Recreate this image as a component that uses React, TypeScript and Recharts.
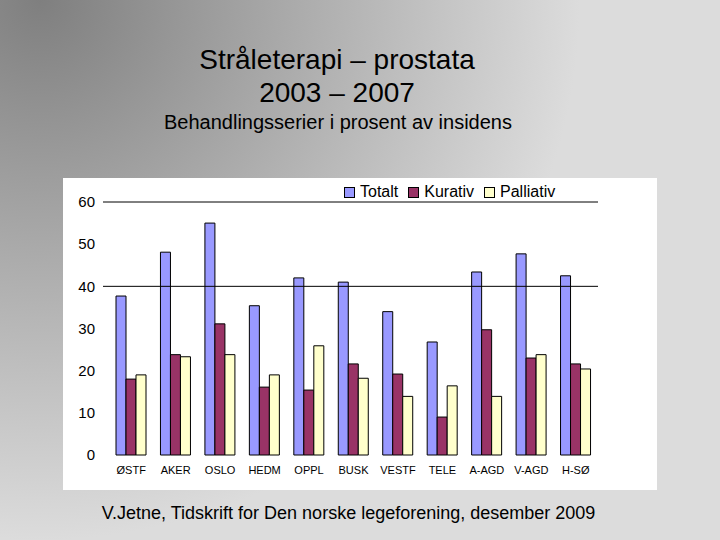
import React from 'react';
import { BarChart, Bar, XAxis, YAxis, ReferenceLine, Legend } from 'recharts';

const categories = ['ØSTF', 'AKER', 'OSLO', 'HEDM', 'OPPL', 'BUSK', 'VESTF', 'TELE', 'A-AGD', 'V-AGD', 'H-SØ'];
const totalt = [37.7, 48.1, 55.0, 35.4, 42.0, 41.0, 34.0, 26.8, 43.4, 47.7, 42.5];
const kurativ = [18.0, 23.8, 31.1, 16.1, 15.4, 21.6, 19.2, 9.0, 29.7, 23.0, 21.6];
const palliativ = [19.0, 23.3, 23.8, 19.0, 25.9, 18.2, 13.9, 16.4, 13.9, 23.8, 20.4];
const yTicks = [0, 10, 20, 30, 40, 50, 60];
const gridValues = [40, 60];

const seriesNames = ['Totalt', 'Kurativ', 'Palliativ'];
const seriesColors = ['#9999ff', '#993366', '#ffffcc'];

const data = categories.map((name, i) => ({
  name,
  Totalt: totalt[i],
  Kurativ: kurativ[i],
  Palliativ: palliativ[i],
}));

const FONT = '"Liberation Sans", Arial, Helvetica, sans-serif';

const renderLegend = () => (
  <div style={{ display: 'flex', alignItems: 'center', fontFamily: FONT, fontSize: 16, color: '#000', lineHeight: '18px', whiteSpace: 'nowrap' }}>
    {seriesNames.map((n, i) => (
      <div key={n} style={{ display: 'flex', alignItems: 'center', marginRight: 10 }}>
        <span style={{ display: 'inline-block', width: 9, height: 9, background: seriesColors[i], border: '1px solid #000', marginRight: 5 }} />
        <span>{n}</span>
      </div>
    ))}
  </div>
);

export default function App() {
  return (
    <div
      style={{
        position: 'absolute',
        left: 0,
        top: 0,
        width: 720,
        height: 540,
        overflow: 'hidden',
        background: 'radial-gradient(circle at 40px 0px, #7f7f7f 0px, #dcdcdc 540px)',
        fontFamily: FONT,
      }}
    >
      <div style={{ position: 'absolute', left: 0, width: 674, top: 44, textAlign: 'center', fontSize: 28, lineHeight: '32px', color: '#000' }}>
        Stråleterapi – prostata
      </div>
      <div style={{ position: 'absolute', left: 0, width: 674, top: 77, textAlign: 'center', fontSize: 28, lineHeight: '32px', color: '#000' }}>
        2003 – 2007
      </div>
      <div style={{ position: 'absolute', left: 0, width: 676, top: 110, textAlign: 'center', fontSize: 20, lineHeight: '24px', color: '#000' }}>
        Behandlingsserier i prosent av insidens
      </div>

      <div style={{ position: 'absolute', left: 63, top: 178, width: 594, height: 312, background: '#fff' }}>
        <BarChart
          width={594}
          height={312}
          data={data}
          margin={{ top: 24, right: 59, bottom: 0, left: 0 }}
          barGap={0}
          barSize={10}
        >
          <XAxis
            dataKey="name"
            axisLine={false}
            tickLine={false}
            interval={0}
            height={35}
            padding={{ left: 6, right: 0 }}
            tickMargin={5}
            tick={{ fontSize: 11, fill: '#000', fontFamily: FONT }}
          />
          <YAxis
            width={40}
            domain={[0, 60]}
            ticks={yTicks}
            axisLine={false}
            tickLine={false}
            tickMargin={2}
            tick={{ fontSize: 15, fill: '#000', fontFamily: FONT }}
          />
          {gridValues.map((v) => (
            <ReferenceLine key={v} y={v} stroke="#000" strokeWidth={1} />
          ))}
          <Legend
            layout="vertical"
            align="center"
            verticalAlign="middle"
            content={renderLegend}
            wrapperStyle={{ position: 'absolute', top: 5, left: 281, width: 'auto' }}
          />
          {seriesNames.map((n, i) => (
            <Bar key={n} dataKey={n} fill={seriesColors[i]} stroke="#000" strokeWidth={1} isAnimationActive={false} />
          ))}
        </BarChart>
      </div>

      <div style={{ position: 'absolute', left: 0, width: 697, top: 502, textAlign: 'center', fontSize: 18, lineHeight: '22px', color: '#000' }}>
        V.Jetne, Tidskrift for Den norske legeforening, desember 2009
      </div>
    </div>
  );
}
